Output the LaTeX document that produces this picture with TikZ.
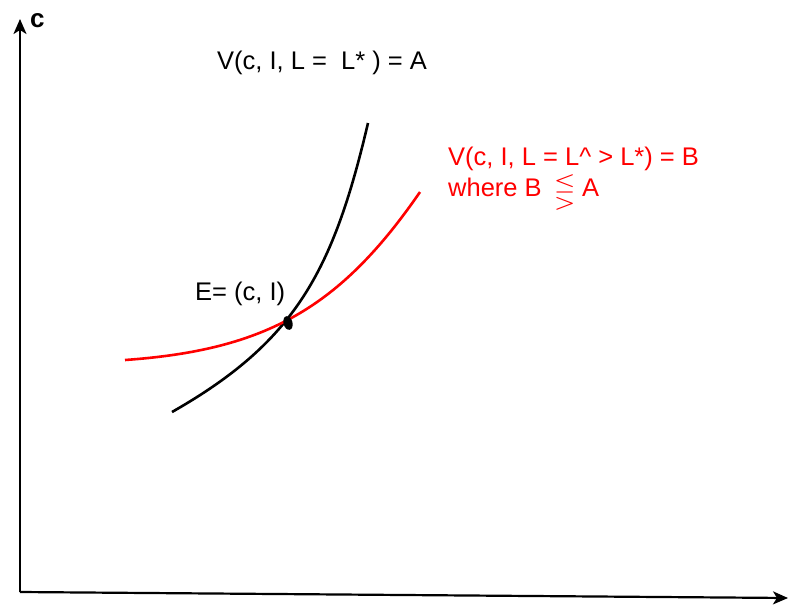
\documentclass[tikz,border=0pt]{standalone}
\usepackage{amssymb}
\usepackage{fontspec}
\setmainfont{Liberation Sans}
\usetikzlibrary{arrows.meta}
\begin{document}
\begin{tikzpicture}[x=1pt,y=-1pt,
  axis/.style={line width=2.2pt, -{Stealth[length=15pt,width=13pt,inset=4pt]}},
  curveblack/.style={line width=2.6pt, black},
  curvered/.style={line width=2.6pt, red},
  lbl/.style={anchor=base west, inner sep=0pt, font=\fontsize{25.5}{30}\selectfont}
]
\useasboundingbox (0,0) rectangle (796,606);
\coordinate (O) at (20,592);
\coordinate (ytop) at (20,19);
\coordinate (xend) at (788,598);
\draw[axis] (O) -- (ytop);
\draw[axis] (O) -- (xend);
\node[lbl, font=\fontsize{26}{28}\selectfont\bfseries] (clabel) at (30,27) {c};

\coordinate (b0) at (172,412);
\coordinate (b1) at (368,123);
\coordinate (r0) at (125,360);
\coordinate (r1) at (420,192);
\draw[curveblack] (b0) .. controls (295,342) and (333,272) .. (b1);
\draw[curvered] (r0) .. controls (266,350) and (340,308) .. (r1);
\fill[black, rotate around={15:(288,323)}] (288,323) ellipse (4.5 and 7);

\node[lbl] (titleA) at (217,69) {V(c, I, L =\ \ L* ) = A};
\node[lbl, text=red] (titleB) at (448,165) {V(c, I, L = L\^{} > L*) = B};
\node[lbl, text=red] (whereB) at (448,196) {where B};
\node[inner sep=0pt, text=red, font=\fontsize{28}{30}\selectfont] (rel) at (565,192) {$\lesseqgtr$};
\node[lbl, text=red] (Aletter) at (582,196) {A};
\node[lbl] (Elabel) at (195,300) {E= (c, I)};
\end{tikzpicture}
\end{document}
